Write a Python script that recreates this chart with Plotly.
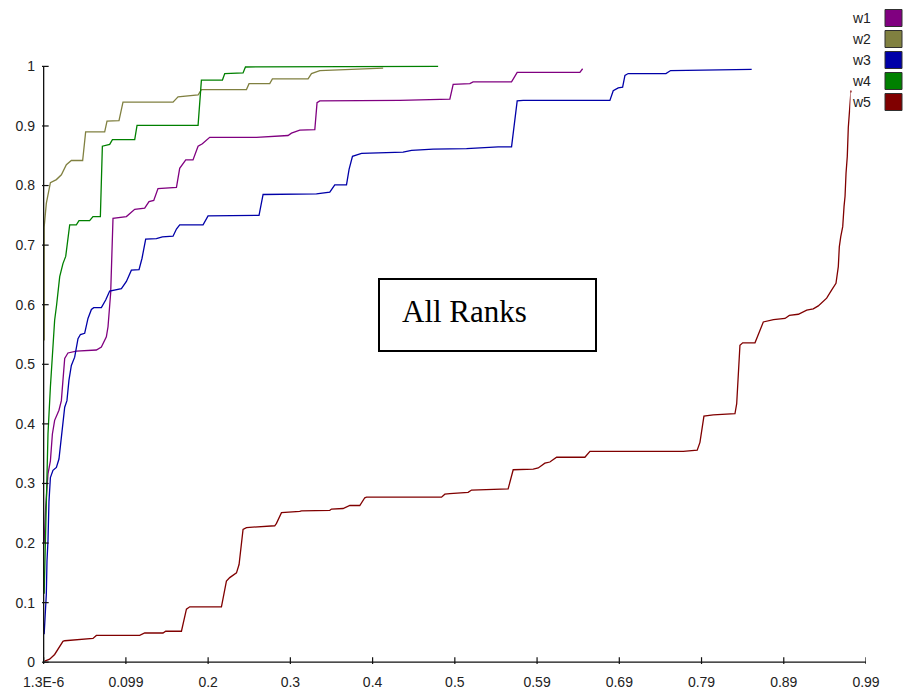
import plotly.graph_objects as go

# ---------------- data ----------------
w1_x = [0.0006, 0.0024, 0.0052, 0.0081, 0.0105, 0.0132, 0.0184, 0.0213, 0.0232, 0.0253,
        0.0292, 0.0393, 0.0634, 0.0694, 0.0754, 0.0774, 0.0806, 0.0834, 0.0995, 0.1095,
        0.1215, 0.1267, 0.1324, 0.1375, 0.1597, 0.1636, 0.1709, 0.1796, 0.1857, 0.1909,
        0.1997, 0.2559, 0.2939, 0.2980, 0.3080, 0.3261, 0.3288, 0.3321, 0.4283, 0.4765,
        0.4885, 0.4925, 0.5126, 0.5165, 0.5627, 0.5695, 0.6449, 0.6482]
w1_y = [0.20, 0.26, 0.316, 0.338, 0.383, 0.406, 0.423, 0.439, 0.473, 0.51,
        0.519, 0.522, 0.524, 0.529, 0.546, 0.563, 0.620, 0.745, 0.748, 0.760,
        0.762, 0.773, 0.775, 0.795, 0.797, 0.829, 0.843, 0.843, 0.866, 0.870,
        0.881, 0.881, 0.884, 0.888, 0.893, 0.894, 0.939, 0.942, 0.943, 0.944,
        0.945, 0.970, 0.971, 0.974, 0.974, 0.990, 0.990, 0.996]

w2_x = [0.0006, 0.0006, 0.0032, 0.0081, 0.0153, 0.0213, 0.0273, 0.0333, 0.0469, 0.0505,
        0.0734, 0.0762, 0.0906, 0.0954, 0.1556, 0.1616, 0.1857, 0.1897, 0.2439, 0.2470,
        0.2719, 0.2751, 0.3180, 0.3221, 0.3321, 0.3622, 0.4083]
w2_y = [0.54, 0.73, 0.77, 0.805, 0.81, 0.818, 0.835, 0.842, 0.842, 0.89,
        0.89, 0.908, 0.909, 0.94, 0.94, 0.949, 0.952, 0.961, 0.961, 0.971,
        0.971, 0.979, 0.979, 0.988, 0.993, 0.995, 0.997]

w3_x = [0.0006, 0.0032, 0.0040, 0.0052, 0.0064, 0.0081, 0.0112, 0.0153, 0.0184, 0.0201,
        0.0225, 0.0253, 0.0280, 0.0304, 0.0333, 0.0373, 0.0413, 0.0442, 0.0493, 0.0533,
        0.0574, 0.0602, 0.0694, 0.0746, 0.0794, 0.0935, 0.0995, 0.1055, 0.1147, 0.1183,
        0.1227, 0.1356, 0.1428, 0.1556, 0.1597, 0.1636, 0.1917, 0.1977, 0.2590, 0.2639,
        0.3281, 0.3441, 0.3501, 0.3642, 0.3673, 0.3714, 0.3823, 0.4323, 0.4424, 0.4684,
        0.5086, 0.5466, 0.5627, 0.5695, 0.5767, 0.6810, 0.6850, 0.6910, 0.6963, 0.6991,
        0.7030, 0.7484, 0.7540, 0.8515]
w3_y = [0.047, 0.114, 0.17, 0.204, 0.27, 0.310, 0.322, 0.327, 0.341, 0.361,
        0.394, 0.428, 0.439, 0.473, 0.498, 0.512, 0.543, 0.550, 0.552, 0.577,
        0.592, 0.595, 0.595, 0.608, 0.623, 0.627, 0.639, 0.658, 0.659, 0.678,
        0.710, 0.711, 0.714, 0.715, 0.727, 0.734, 0.734, 0.749, 0.750, 0.785,
        0.786, 0.789, 0.801, 0.801, 0.827, 0.849, 0.854, 0.856, 0.859, 0.861,
        0.862, 0.865, 0.865, 0.942, 0.943, 0.943, 0.959, 0.964, 0.965, 0.985,
        0.988, 0.988, 0.993, 0.995]

w4_x = [0.0006, 0.0032, 0.0052, 0.0081, 0.0105, 0.0132, 0.0156, 0.0193, 0.0232, 0.0265,
        0.0313, 0.0393, 0.0425, 0.0553, 0.0593, 0.0682, 0.0706, 0.0794, 0.0827, 0.1095,
        0.1123, 0.1857, 0.1897, 0.2150, 0.2178, 0.2398, 0.2427, 0.4744]
w4_y = [0.115, 0.27, 0.383, 0.462, 0.518, 0.574, 0.60, 0.647, 0.669, 0.681,
        0.734, 0.734, 0.741, 0.741, 0.748, 0.748, 0.866, 0.869, 0.877, 0.877,
        0.901, 0.901, 0.977, 0.977, 0.988, 0.989, 0.999, 1.0]

w5_x = [0.0012, 0.0072, 0.0132, 0.0172, 0.0232, 0.0253, 0.0433, 0.0593, 0.0634, 0.1155,
        0.1215, 0.1435, 0.1468, 0.1657, 0.1717, 0.1757, 0.2138, 0.2198, 0.2238, 0.2319,
        0.2350, 0.2398, 0.2439, 0.2779, 0.2800, 0.2860, 0.3080, 0.3101, 0.3441, 0.3462,
        0.3601, 0.3642, 0.3682, 0.3802, 0.3862, 0.3883, 0.4785, 0.4825, 0.4885, 0.5105,
        0.5146, 0.5586, 0.5647, 0.5888, 0.5948, 0.6028, 0.6088, 0.6169, 0.6449, 0.6509,
        0.6570, 0.7692, 0.7860, 0.7893, 0.7941, 0.8053, 0.8314, 0.8335, 0.8374, 0.8407,
        0.8555, 0.8595, 0.8655, 0.8777, 0.8916, 0.8968, 0.9076, 0.9177, 0.9256, 0.9316,
        0.9417, 0.9478, 0.9529, 0.9557, 0.9569, 0.9586, 0.9610, 0.9626, 0.9638, 0.9650,
        0.9665, 0.9677, 0.9689, 0.9710]
w5_y = [0.002, 0.005, 0.013, 0.021, 0.035, 0.036, 0.038, 0.040, 0.045, 0.045,
        0.049, 0.049, 0.052, 0.052, 0.089, 0.093, 0.093, 0.136, 0.142, 0.150,
        0.164, 0.223, 0.226, 0.229, 0.233, 0.251, 0.253, 0.254, 0.255, 0.257,
        0.258, 0.261, 0.263, 0.263, 0.276, 0.277, 0.277, 0.282, 0.283, 0.285,
        0.289, 0.291, 0.323, 0.324, 0.326, 0.334, 0.336, 0.344, 0.344, 0.344,
        0.354, 0.354, 0.356, 0.369, 0.413, 0.415, 0.417, 0.434, 0.532, 0.536,
        0.536, 0.549, 0.571, 0.575, 0.577, 0.582, 0.584, 0.591, 0.593, 0.598,
        0.611, 0.625, 0.636, 0.664, 0.697, 0.714, 0.731, 0.765, 0.782, 0.821,
        0.849, 0.897, 0.922, 0.960]

series_names = ["w1", "w2", "w3", "w4", "w5"]
series_colors = ["#800080", "#808040", "#0000A8", "#008000", "#800000"]
series_x = [w1_x, w2_x, w3_x, w4_x, w5_x]
series_y = [w1_y, w2_y, w3_y, w4_y, w5_y]

x_tick_vals = [1.3e-6, 0.0989, 0.1978, 0.2967, 0.3956, 0.4945, 0.5934, 0.6923, 0.7912, 0.8901, 0.989]
x_tick_text = ["1.3E-6", "0.099", "0.2", "0.3", "0.4", "0.5", "0.59", "0.69", "0.79", "0.89", "0.99"]
y_tick_vals = [0, 0.1, 0.2, 0.3, 0.4, 0.5, 0.6, 0.7, 0.8, 0.9, 1.0]
y_tick_text = ["0", "0.1", "0.2", "0.3", "0.4", "0.5", "0.6", "0.7", "0.8", "0.9", "1"]

box_label = "All Ranks"

# ---------------- layout geometry ----------------
W, H = 905, 696
ML, MR, MT, MB = 42, 39, 64, 32
PW, PH = W - ML - MR, H - MT - MB


def px(xpix):
    return (xpix - ML) / PW


def py(ypix):
    return (H - MB - ypix) / PH


fig = go.Figure()
for name, col, xs, ys in zip(series_names, series_colors, series_x, series_y):
    fig.add_trace(go.Scatter(x=xs, y=ys, mode="lines", name=name,
                             line=dict(color=col, width=1.3), showlegend=False,
                             hoverinfo="skip"))

shapes = []
# axis lines
shapes.append(dict(type="line", xref="x", yref="y", x0=0, x1=x_tick_vals[-1], y0=0, y1=0,
                   line=dict(color="#111111", width=1.3)))
shapes.append(dict(type="line", xref="x", yref="y", x0=0, x1=0, y0=0, y1=1,
                   line=dict(color="#111111", width=1.3)))
# tick marks crossing the axes
for tv in x_tick_vals:
    shapes.append(dict(type="line", xref="x", yref="y", ysizemode="pixel", yanchor=0,
                       x0=tv, x1=tv, y0=-5, y1=5, line=dict(color="#111111", width=1.2)))
for tv in y_tick_vals:
    shapes.append(dict(type="line", xref="x", yref="y", xsizemode="pixel", xanchor=0,
                       x0=-5, x1=5, y0=tv, y1=tv, line=dict(color="#111111", width=1.2)))

# text box
shapes.append(dict(type="rect", xref="paper", yref="paper",
                   x0=px(379), x1=px(596), y0=py(351), y1=py(279),
                   line=dict(color="black", width=2), fillcolor="white", layer="above"))

annotations = [dict(text=box_label, xref="paper", yref="paper", x=px(400), y=py(311),
                    xanchor="left", yanchor="middle", showarrow=False,
                    font=dict(family="Liberation Serif, Times New Roman, serif", size=31, color="black"))]

# legend (label left, swatch right)
legend_centers = [18, 39, 60, 81, 102]
for name, col, cy in zip(series_names, series_colors, legend_centers):
    annotations.append(dict(text=name, xref="paper", yref="paper", x=px(861), y=py(cy),
                            xanchor="center", yanchor="middle", showarrow=False,
                            bgcolor="white",
                            font=dict(family="Liberation Sans, Arial, sans-serif", size=14, color="#222222")))
    shapes.append(dict(type="rect", xref="paper", yref="paper",
                       x0=px(885), x1=px(902), y0=py(cy + 8.5), y1=py(cy - 8.5),
                       line=dict(color="#303030", width=1), fillcolor=col, layer="above"))

fig.update_layout(
    width=W, height=H,
    margin=dict(l=ML, r=MR, t=MT, b=MB, autoexpand=False),
    paper_bgcolor="white", plot_bgcolor="white",
    font=dict(family="Liberation Sans, Arial, sans-serif", size=14, color="#222222"),
    xaxis=dict(range=[-0.002, 0.989], showgrid=False, zeroline=False, showline=False,
               ticks="", tickvals=x_tick_vals, ticktext=x_tick_text, ticklabelstandoff=8,
               tickfont=dict(size=14, color="#222222")),
    yaxis=dict(range=[-0.003, 1.004], showgrid=False, zeroline=False, showline=False,
               ticks="", tickvals=y_tick_vals, ticktext=y_tick_text, ticklabelstandoff=6,
               tickfont=dict(size=14, color="#222222")),
    shapes=shapes, annotations=annotations, showlegend=False,
)

fig.write_html("out.html", config={"displayModeBar": False},
               post_script="document.body.style.margin='0';document.body.style.overflow='hidden';")
